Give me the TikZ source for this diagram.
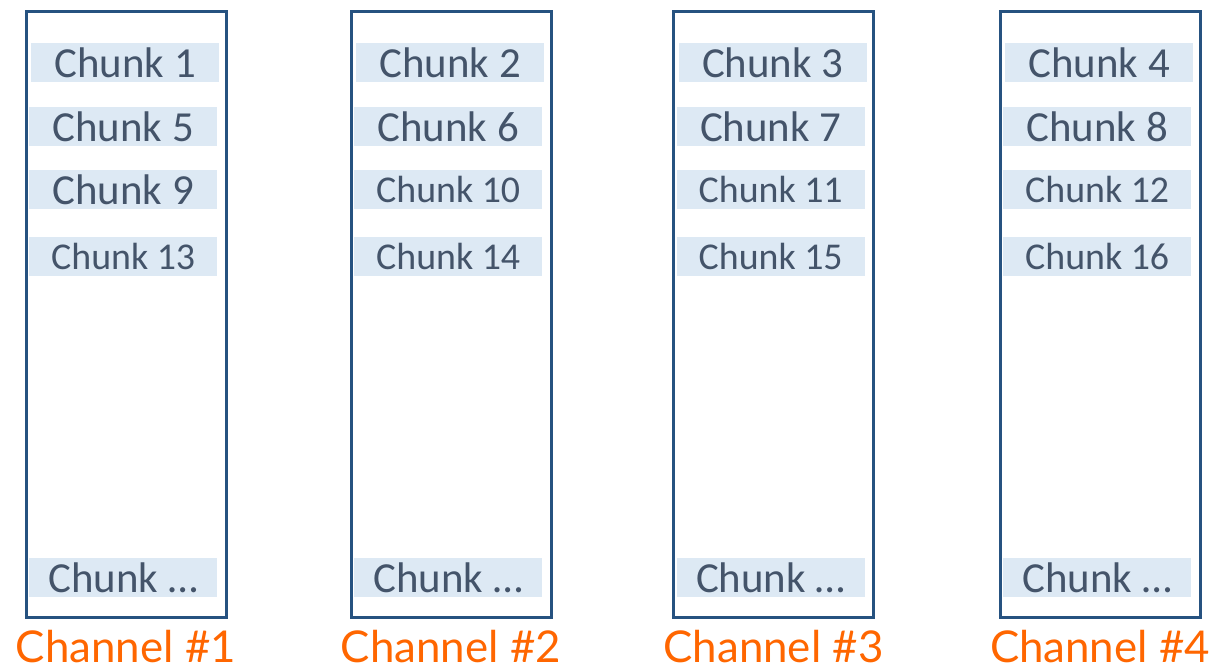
\documentclass[tikz,border=0pt]{standalone}
\usepackage{fontspec}
\setmainfont{Carlito}
\newfontfamily\labelfont{Lato}
\definecolor{chanblue}{RGB}{38,82,128}
\definecolor{chunkfill}{RGB}{221,233,244}
\definecolor{chunktext}{RGB}{68,84,106}
\definecolor{chanorange}{RGB}{255,102,0}
\tikzset{
  chanbox/.style={draw=chanblue, line width=3bp, minimum width=200bp, minimum height=605bp,
    inner sep=0pt, anchor=north west},
  chunkbox/.style={fill=chunkfill, text=chunktext, minimum width=188bp, minimum height=39bp,
    inner sep=0pt, anchor=north west, font=\fontsize{#1}{#1}\selectfont},
  chunkbox/.default=43,
  chanlabel/.style={text=chanorange, font=\labelfont\fontsize{44}{44}\selectfont, inner sep=0pt, anchor=base}
}
\begin{document}
\begin{tikzpicture}[x=1bp, y=-1bp]
\useasboundingbox (0,0) rectangle (1212,669);
\foreach \c/\lx in {1/24.5, 2/349.5, 3/672, 4/998.5}{
  % channel frame
  \node[chanbox] (ch\c) at (\lx,10.5) {};
  % chunks striped across the channels
  \pgfmathtruncatemacro{\na}{\c}
  \pgfmathtruncatemacro{\nb}{\c+4}
  \pgfmathtruncatemacro{\nc}{\c+8}
  \pgfmathtruncatemacro{\nd}{\c+12}
  \node[chunkbox] (k\c-1) at (\lx+6.5,43) {Chunk \na};
  \node[chunkbox] (k\c-2) at (\lx+4.5,107) {Chunk \nb};
  \ifnum\nc<10
    \node[chunkbox] (k\c-3) at (\lx+4.5,170) {Chunk \nc};
  \else
    \node[chunkbox=38] (k\c-3) at (\lx+4.5,170) {Chunk \nc};
  \fi
  \node[chunkbox=38] (k\c-4) at (\lx+4.5,237) {Chunk \nd};
  \node[chunkbox] (k\c-5) at (\lx+4.5,558) {Chunk \dots};
  % channel caption
  \node[chanlabel] (lab\c) at ([yshift=-44bp]ch\c.south) {Channel \#\c};
}
\end{tikzpicture}
\end{document}
